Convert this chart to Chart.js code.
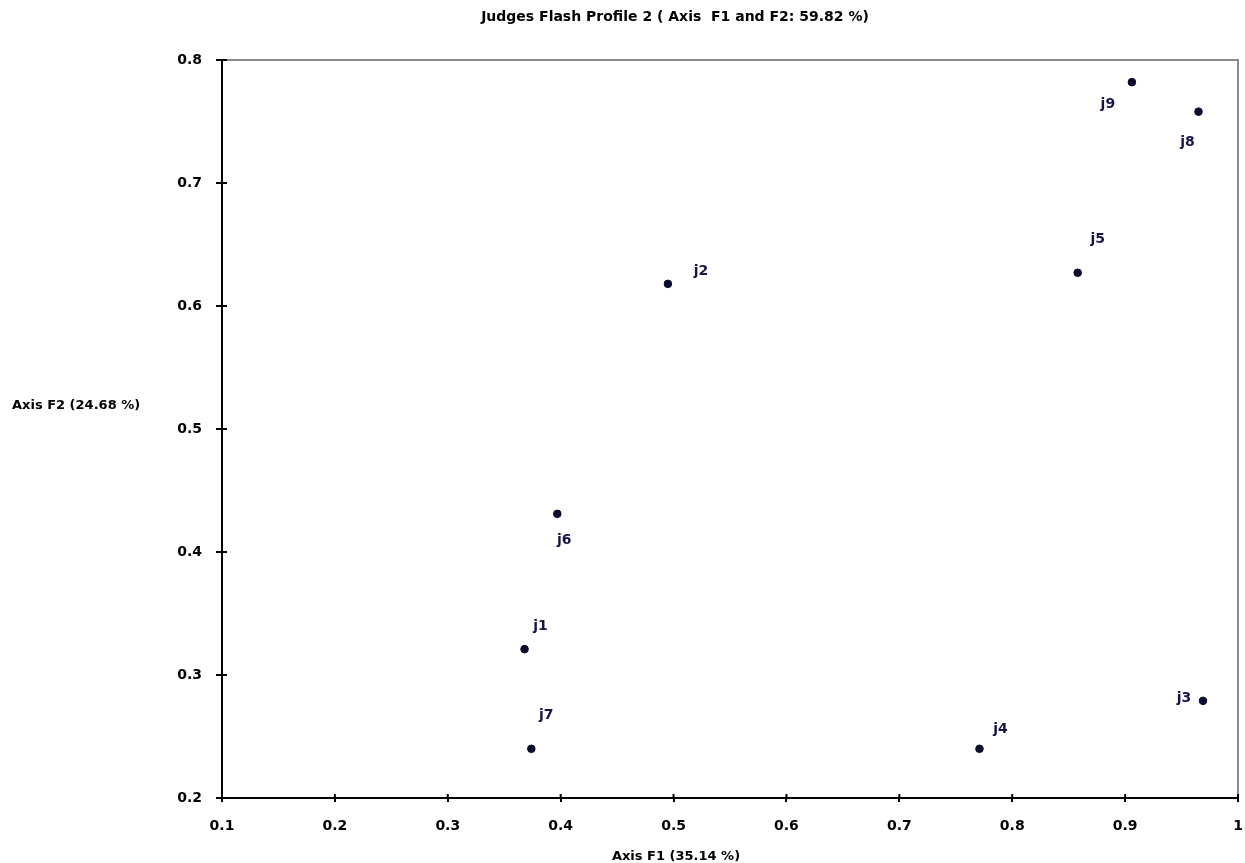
<!DOCTYPE html>
<html>
<head>
<meta charset="utf-8">
<script src="https://cdn.jsdelivr.net/npm/chart.js@4/dist/chart.umd.min.js"></script>
<style>
html,body{margin:0;padding:0;background:#fff;}
#wrap{width:1245px;height:863px;position:relative;}
</style>
</head>
<body>
<div id="wrap"><canvas id="c" width="1245" height="863"></canvas></div>
<script>
const judges = ['j1','j2','j3','j4','j5','j6','j7','j8','j9'];
const f1Values = [0.368, 0.495, 0.969, 0.771, 0.858, 0.397, 0.374, 0.965, 0.906];
const f2Values = [0.321, 0.618, 0.279, 0.240, 0.627, 0.431, 0.240, 0.758, 0.782];
const xTickLabels = ['0.1','0.2','0.3','0.4','0.5','0.6','0.7','0.8','0.9','1'];
const yTickLabels = ['0.2','0.3','0.4','0.5','0.6','0.7','0.8'];
const chartTitle = 'Judges Flash Profile 2 ( Axis  F1 and F2: 59.82 %)';
const xAxisTitle = 'Axis F1 (35.14 %)';
const yAxisTitle = 'Axis F2 (24.68 %)';

// label offsets (pixels) relative to each point, same order as judges
const labelOffsets = [[16,-23],[33,-13],[-19,-2],[21,-19],[20,-33],[7,26],[15,-33],[-11,31],[-24,22]];

const FONT = '"DejaVu Sans", "Liberation Sans", Arial, sans-serif';

const framePlugin = {
  id: 'frame',
  beforeDatasetsDraw(chart) {
    const {ctx, chartArea: a, scales} = chart;
    ctx.save();
    ctx.strokeStyle = '#8a8a8a';
    ctx.lineWidth = 2;
    ctx.beginPath();
    ctx.moveTo(a.left, a.top);
    ctx.lineTo(a.right, a.top);
    ctx.lineTo(a.right, a.bottom);
    ctx.stroke();
    // inner halves of the tick marks (crossing the axis lines)
    ctx.strokeStyle = '#000';
    ctx.beginPath();
    scales.x.ticks.forEach(t => {
      const px = scales.x.getPixelForValue(t.value);
      ctx.moveTo(px, a.bottom);
      ctx.lineTo(px, a.bottom - 4);
    });
    scales.y.ticks.forEach(t => {
      const py = scales.y.getPixelForValue(t.value);
      ctx.moveTo(a.left, py);
      ctx.lineTo(a.left + 5, py);
    });
    ctx.stroke();
    ctx.restore();
  },
  afterDraw(chart) {
    const {ctx} = chart;
    ctx.save();
    ctx.fillStyle = '#000';
    ctx.textAlign = 'center';
    ctx.textBaseline = 'middle';
    ctx.font = 'bold 14px ' + FONT;
    ctx.fillText(chartTitle, 675, 17);
    ctx.font = 'bold 13px ' + FONT;
    ctx.fillText(xAxisTitle, 676, 857);
    ctx.textAlign = 'left';
    ctx.fillText(yAxisTitle, 12, 406);
    // point labels
    const meta = chart.getDatasetMeta(0);
    ctx.fillStyle = '#14144a';
    ctx.font = 'bold 14px ' + FONT;
    ctx.textAlign = 'center';
    meta.data.forEach((pt, i) => {
      const o = labelOffsets[i];
      ctx.fillText(judges[i], pt.x + o[0], pt.y + o[1]);
    });
    ctx.restore();
  }
};

const points = judges.map((j, i) => ({x: f1Values[i], y: f2Values[i]}));

new Chart(document.getElementById('c'), {
  type: 'scatter',
  data: {
    datasets: [{
      data: points,
      backgroundColor: '#0a0a30',
      borderColor: '#0a0a30',
      pointRadius: 3.8,
      pointHoverRadius: 3.8
    }]
  },
  options: {
    responsive: false,
    animation: false,
    devicePixelRatio: 1,
    layout: {padding: {top: 60, right: 7, left: 0, bottom: 0}},
    plugins: {legend: {display: false}, tooltip: {enabled: false}, title: {display: false}},
    scales: {
      x: {
        type: 'linear', min: 0.1, max: 1,
        afterFit(s) { s.height = 65; s.paddingRight = 0; s.paddingLeft = 0; },
        ticks: {
          stepSize: 0.1,
          color: '#000',
          font: {family: FONT, size: 14, weight: 'bold'},
          padding: 16,
          maxRotation: 0,
          callback: (v, i) => xTickLabels[i]
        },
        grid: {drawOnChartArea: false, drawTicks: true, tickLength: 4, color: '#000', lineWidth: 2},
        border: {color: '#000', width: 2}
      },
      y: {
        type: 'linear', min: 0.2, max: 0.8,
        afterFit(s) { s.width = 222; s.paddingTop = 0; s.paddingBottom = 0; },
        ticks: {
          stepSize: 0.1,
          color: '#000',
          font: {family: FONT, size: 14, weight: 'bold'},
          padding: 14,
          callback: (v, i) => yTickLabels[i]
        },
        grid: {drawOnChartArea: false, drawTicks: true, tickLength: 6, color: '#000', lineWidth: 2},
        border: {color: '#000', width: 2}
      }
    }
  },
  plugins: [framePlugin]
});
</script>
</body>
</html>
